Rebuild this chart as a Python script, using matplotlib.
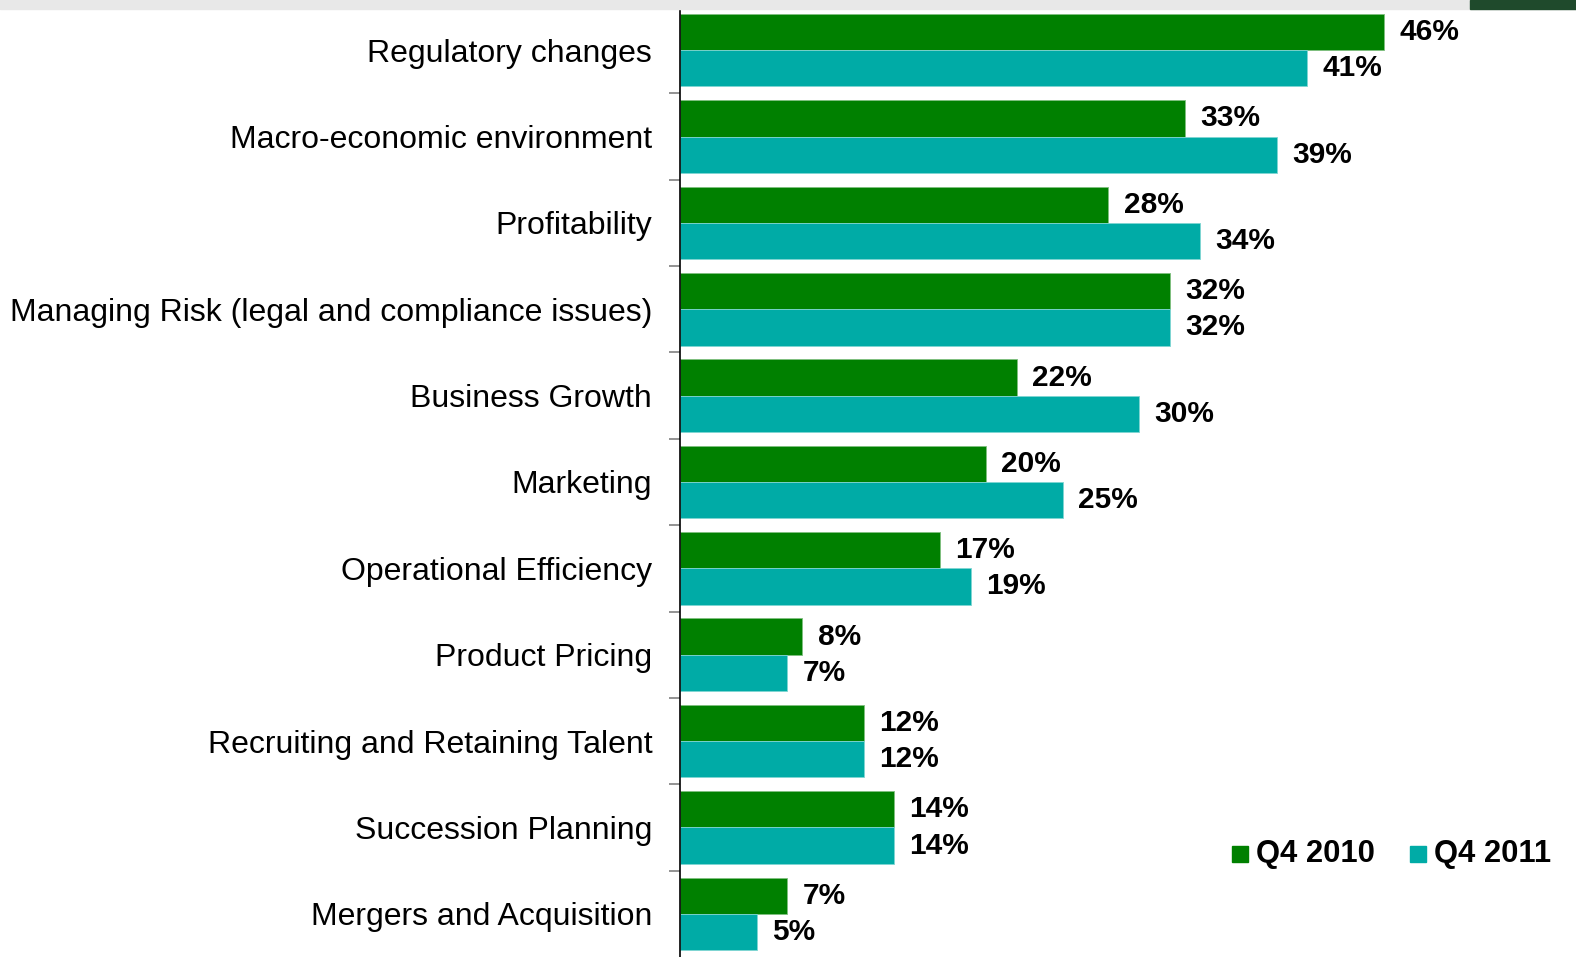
import numpy as np
import matplotlib
matplotlib.use("Agg")
import matplotlib.pyplot as plt
from matplotlib.patches import Rectangle

categories = [
    "Regulatory changes",
    "Macro-economic environment",
    "Profitability",
    "Managing Risk (legal and compliance issues)",
    "Business Growth",
    "Marketing",
    "Operational Efficiency",
    "Product Pricing",
    "Recruiting and Retaining Talent",
    "Succession Planning",
    "Mergers and Acquisition",
]
q4_2010 = [46, 33, 28, 32, 22, 20, 17, 8, 12, 14, 7]
q4_2011 = [41, 39, 34, 32, 30, 25, 19, 7, 12, 14, 5]
series_names = ["Q4 2010", "Q4 2011"]

green = "#008000"
teal = "#00ABA6"

plt.rcParams["font.family"] = ["Liberation Sans", "DejaVu Sans"]

W, H = 1576, 957
fig = plt.figure(figsize=(W / 100, H / 100), dpi=100)

# light gray band and dark block along the top edge
fig.patches.append(Rectangle((0, 1 - 9 / H), 1, 9 / H, transform=fig.transFigure,
                             color="#e8e8e8", zorder=0))
fig.patches.append(Rectangle((1470 / W, 1 - 9 / H), 106 / W, 9 / H, transform=fig.transFigure,
                             color="#1f4a2c", zorder=1))

ax = fig.add_axes([680 / W, 0, 1 - 680 / W, 950 / H])
y = np.arange(len(categories))
h = 0.42
ax.barh(y - h / 2, q4_2010, height=h, color=green, edgecolor="#7fbf7f", linewidth=0.6)
ax.barh(y + h / 2, q4_2011, height=h, color=teal, edgecolor="#7fd6d2", linewidth=0.6)

for i in range(len(categories)):
    ax.annotate(f"{q4_2010[i]}%", (q4_2010[i], y[i] - h / 2), xytext=(11, 0),
                textcoords="offset points", va="center", ha="left",
                fontsize=21.5, fontweight="bold")
    ax.annotate(f"{q4_2011[i]}%", (q4_2011[i], y[i] + h / 2), xytext=(11, 0),
                textcoords="offset points", va="center", ha="left",
                fontsize=21.5, fontweight="bold")

ax.set_xlim(0, (W - 680) / 15.3)
ax.set_ylim(len(categories) - 0.5, -0.5)
ax.set_yticks(y)
ax.set_yticklabels(categories, fontsize=23)
ax.tick_params(axis="y", length=0, pad=20)
ax.set_yticks(np.arange(len(categories)) - 0.5, minor=True)
ax.tick_params(axis="y", which="minor", length=8, color="#808080", width=1.2)
ax.set_xticks([])
for s in ["top", "right", "bottom"]:
    ax.spines[s].set_visible(False)
ax.spines["left"].set_linewidth(1.2)

# legend
lx = [1232, 1410]
for j, (name, c) in enumerate(zip(series_names, [green, teal])):
    fig.patches.append(Rectangle((lx[j] / W, 1 - 862 / H), 16 / W, 16 / H,
                                 transform=fig.transFigure, color=c))
    fig.text((lx[j] + 24) / W, 1 - 854 / H, name, fontsize=22.3, fontweight="bold",
             va="center", ha="left")

plt.savefig("out.png", dpi=100)
